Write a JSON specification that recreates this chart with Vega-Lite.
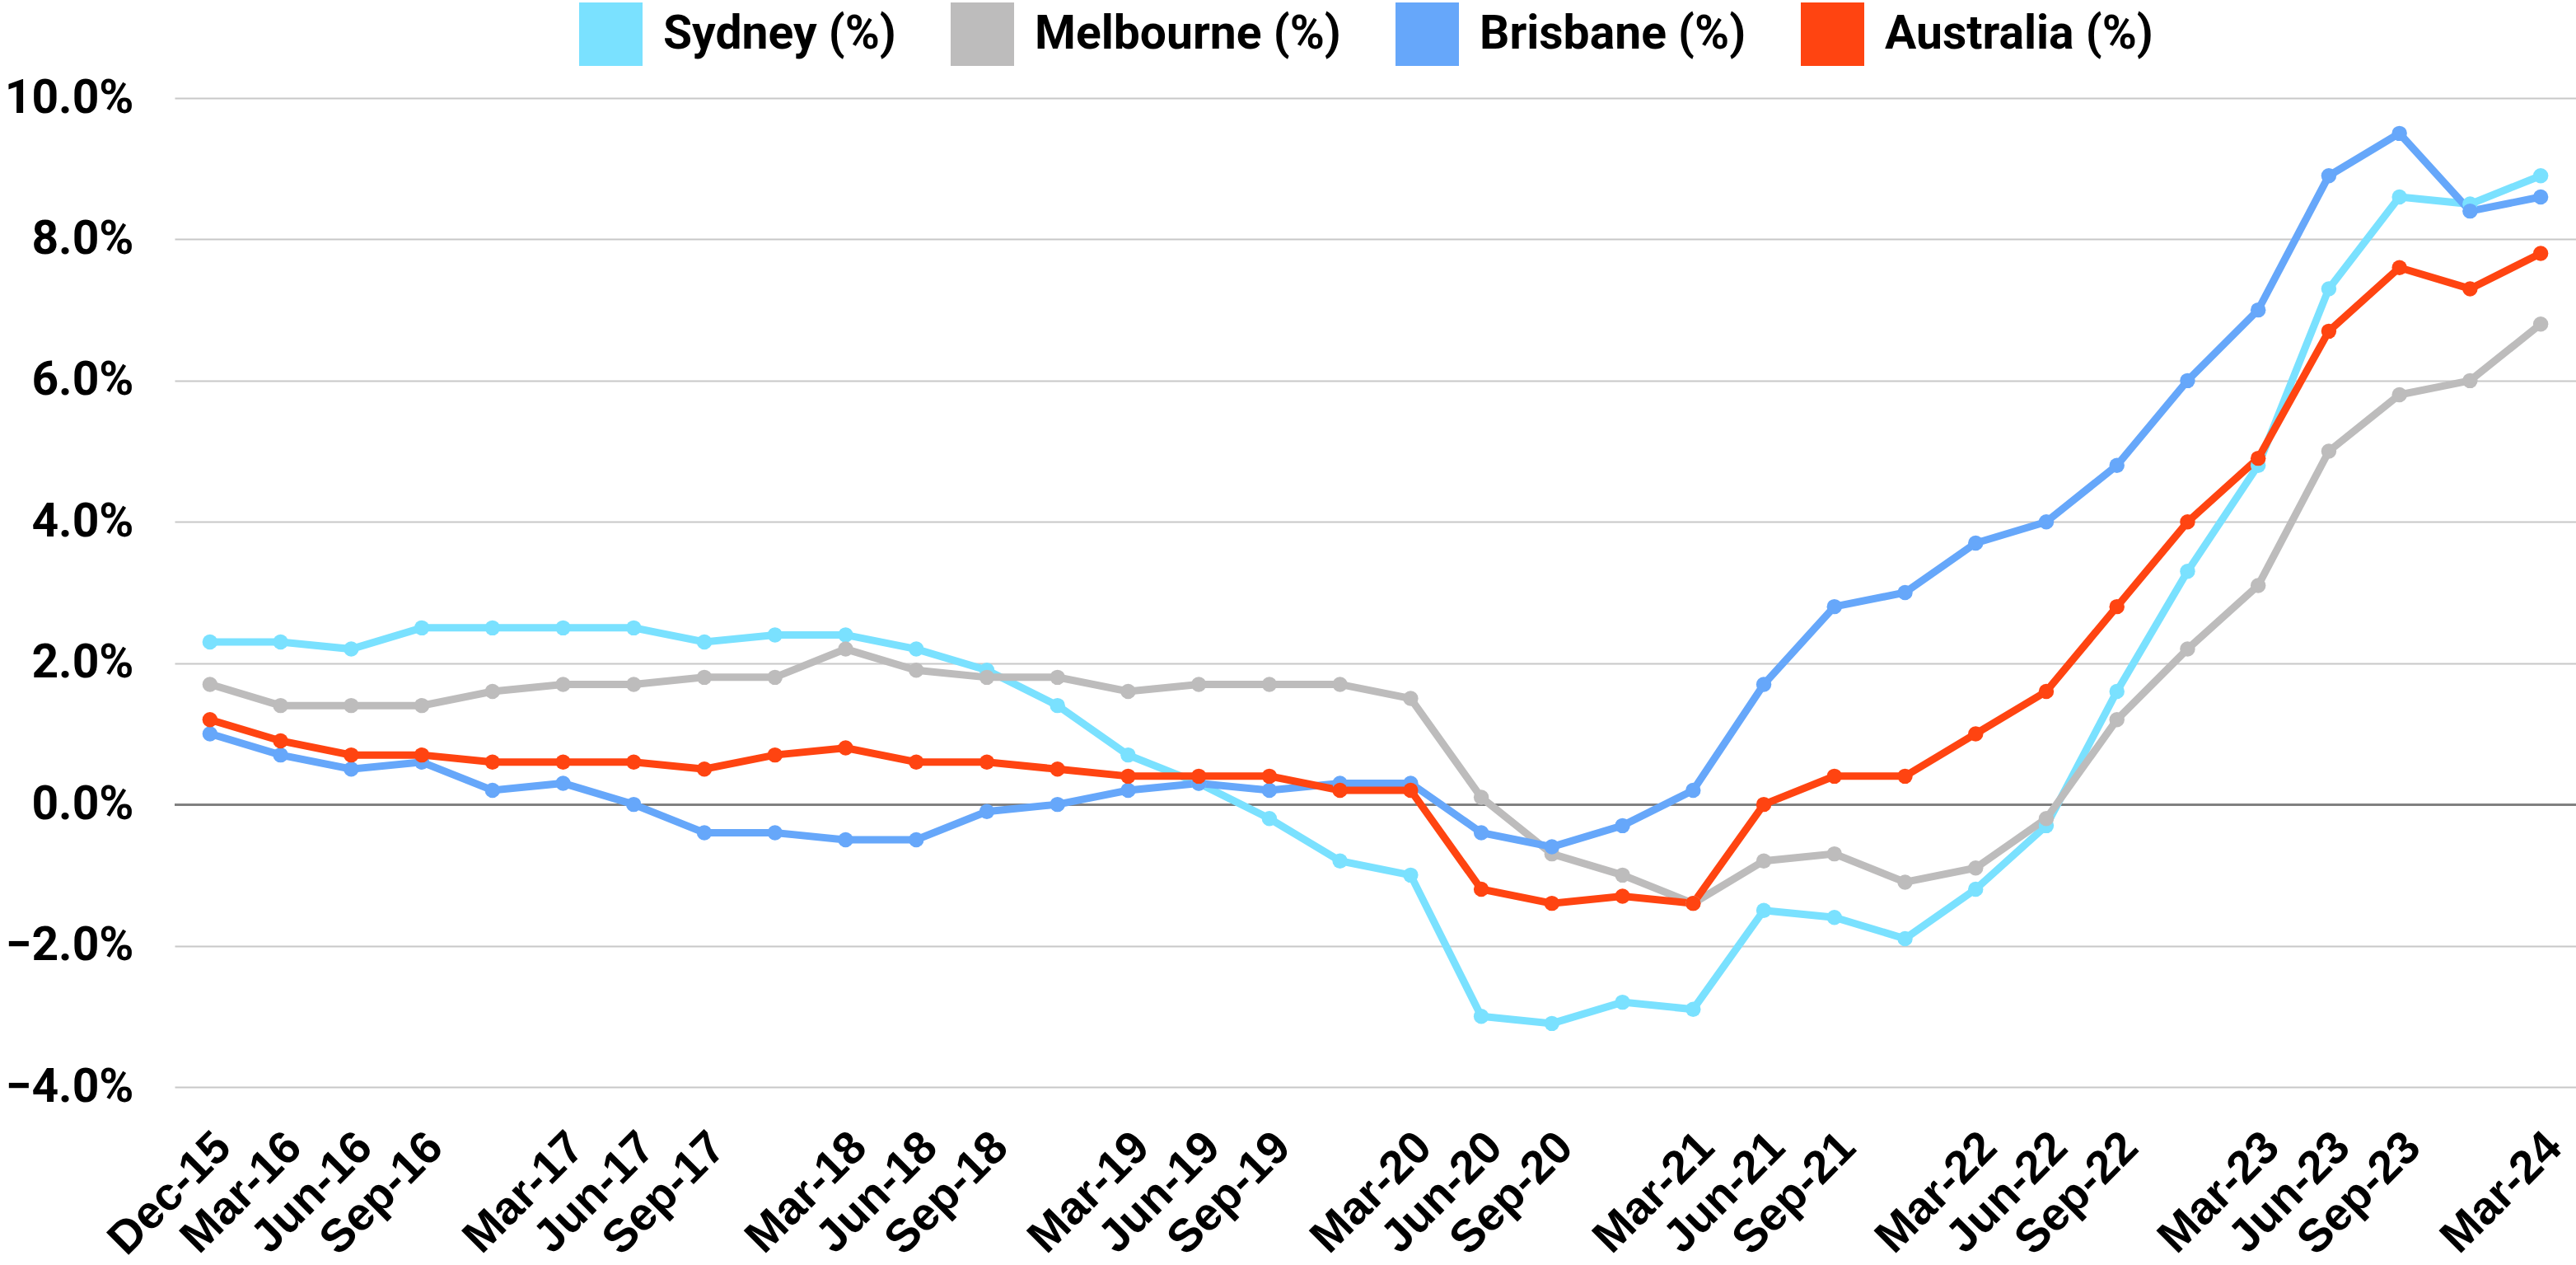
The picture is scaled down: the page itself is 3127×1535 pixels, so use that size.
{
  "$schema": "https://vega.github.io/schema/vega-lite/v6.json",
  "autosize": "none",
  "width": 2915,
  "height": 1200,
  "padding": {"left": 212, "top": 119, "right": 0, "bottom": 216},
  "background": "white",
  "config": {"view": {"stroke": null}},
  "datasets": {
    "rows": [
      {"q":"Dec-15","s":"Sydney (%)","v":2.3},{"q":"Mar-16","s":"Sydney (%)","v":2.3},{"q":"Jun-16","s":"Sydney (%)","v":2.2},{"q":"Sep-16","s":"Sydney (%)","v":2.5},{"q":"Dec-16","s":"Sydney (%)","v":2.5},{"q":"Mar-17","s":"Sydney (%)","v":2.5},{"q":"Jun-17","s":"Sydney (%)","v":2.5},{"q":"Sep-17","s":"Sydney (%)","v":2.3},{"q":"Dec-17","s":"Sydney (%)","v":2.4},{"q":"Mar-18","s":"Sydney (%)","v":2.4},{"q":"Jun-18","s":"Sydney (%)","v":2.2},{"q":"Sep-18","s":"Sydney (%)","v":1.9},{"q":"Dec-18","s":"Sydney (%)","v":1.4},{"q":"Mar-19","s":"Sydney (%)","v":0.7},{"q":"Jun-19","s":"Sydney (%)","v":0.3},{"q":"Sep-19","s":"Sydney (%)","v":-0.2},{"q":"Dec-19","s":"Sydney (%)","v":-0.8},{"q":"Mar-20","s":"Sydney (%)","v":-1.0},{"q":"Jun-20","s":"Sydney (%)","v":-3.0},{"q":"Sep-20","s":"Sydney (%)","v":-3.1},{"q":"Dec-20","s":"Sydney (%)","v":-2.8},{"q":"Mar-21","s":"Sydney (%)","v":-2.9},{"q":"Jun-21","s":"Sydney (%)","v":-1.5},{"q":"Sep-21","s":"Sydney (%)","v":-1.6},{"q":"Dec-21","s":"Sydney (%)","v":-1.9},{"q":"Mar-22","s":"Sydney (%)","v":-1.2},{"q":"Jun-22","s":"Sydney (%)","v":-0.3},{"q":"Sep-22","s":"Sydney (%)","v":1.6},{"q":"Dec-22","s":"Sydney (%)","v":3.3},{"q":"Mar-23","s":"Sydney (%)","v":4.8},{"q":"Jun-23","s":"Sydney (%)","v":7.3},{"q":"Sep-23","s":"Sydney (%)","v":8.6},{"q":"Dec-23","s":"Sydney (%)","v":8.5},{"q":"Mar-24","s":"Sydney (%)","v":8.9},
      {"q":"Dec-15","s":"Melbourne (%)","v":1.7},{"q":"Mar-16","s":"Melbourne (%)","v":1.4},{"q":"Jun-16","s":"Melbourne (%)","v":1.4},{"q":"Sep-16","s":"Melbourne (%)","v":1.4},{"q":"Dec-16","s":"Melbourne (%)","v":1.6},{"q":"Mar-17","s":"Melbourne (%)","v":1.7},{"q":"Jun-17","s":"Melbourne (%)","v":1.7},{"q":"Sep-17","s":"Melbourne (%)","v":1.8},{"q":"Dec-17","s":"Melbourne (%)","v":1.8},{"q":"Mar-18","s":"Melbourne (%)","v":2.2},{"q":"Jun-18","s":"Melbourne (%)","v":1.9},{"q":"Sep-18","s":"Melbourne (%)","v":1.8},{"q":"Dec-18","s":"Melbourne (%)","v":1.8},{"q":"Mar-19","s":"Melbourne (%)","v":1.6},{"q":"Jun-19","s":"Melbourne (%)","v":1.7},{"q":"Sep-19","s":"Melbourne (%)","v":1.7},{"q":"Dec-19","s":"Melbourne (%)","v":1.7},{"q":"Mar-20","s":"Melbourne (%)","v":1.5},{"q":"Jun-20","s":"Melbourne (%)","v":0.1},{"q":"Sep-20","s":"Melbourne (%)","v":-0.7},{"q":"Dec-20","s":"Melbourne (%)","v":-1.0},{"q":"Mar-21","s":"Melbourne (%)","v":-1.4},{"q":"Jun-21","s":"Melbourne (%)","v":-0.8},{"q":"Sep-21","s":"Melbourne (%)","v":-0.7},{"q":"Dec-21","s":"Melbourne (%)","v":-1.1},{"q":"Mar-22","s":"Melbourne (%)","v":-0.9},{"q":"Jun-22","s":"Melbourne (%)","v":-0.2},{"q":"Sep-22","s":"Melbourne (%)","v":1.2},{"q":"Dec-22","s":"Melbourne (%)","v":2.2},{"q":"Mar-23","s":"Melbourne (%)","v":3.1},{"q":"Jun-23","s":"Melbourne (%)","v":5.0},{"q":"Sep-23","s":"Melbourne (%)","v":5.8},{"q":"Dec-23","s":"Melbourne (%)","v":6.0},{"q":"Mar-24","s":"Melbourne (%)","v":6.8},
      {"q":"Dec-15","s":"Brisbane (%)","v":1.0},{"q":"Mar-16","s":"Brisbane (%)","v":0.7},{"q":"Jun-16","s":"Brisbane (%)","v":0.5},{"q":"Sep-16","s":"Brisbane (%)","v":0.6},{"q":"Dec-16","s":"Brisbane (%)","v":0.2},{"q":"Mar-17","s":"Brisbane (%)","v":0.3},{"q":"Jun-17","s":"Brisbane (%)","v":0.0},{"q":"Sep-17","s":"Brisbane (%)","v":-0.4},{"q":"Dec-17","s":"Brisbane (%)","v":-0.4},{"q":"Mar-18","s":"Brisbane (%)","v":-0.5},{"q":"Jun-18","s":"Brisbane (%)","v":-0.5},{"q":"Sep-18","s":"Brisbane (%)","v":-0.1},{"q":"Dec-18","s":"Brisbane (%)","v":0.0},{"q":"Mar-19","s":"Brisbane (%)","v":0.2},{"q":"Jun-19","s":"Brisbane (%)","v":0.3},{"q":"Sep-19","s":"Brisbane (%)","v":0.2},{"q":"Dec-19","s":"Brisbane (%)","v":0.3},{"q":"Mar-20","s":"Brisbane (%)","v":0.3},{"q":"Jun-20","s":"Brisbane (%)","v":-0.4},{"q":"Sep-20","s":"Brisbane (%)","v":-0.6},{"q":"Dec-20","s":"Brisbane (%)","v":-0.3},{"q":"Mar-21","s":"Brisbane (%)","v":0.2},{"q":"Jun-21","s":"Brisbane (%)","v":1.7},{"q":"Sep-21","s":"Brisbane (%)","v":2.8},{"q":"Dec-21","s":"Brisbane (%)","v":3.0},{"q":"Mar-22","s":"Brisbane (%)","v":3.7},{"q":"Jun-22","s":"Brisbane (%)","v":4.0},{"q":"Sep-22","s":"Brisbane (%)","v":4.8},{"q":"Dec-22","s":"Brisbane (%)","v":6.0},{"q":"Mar-23","s":"Brisbane (%)","v":7.0},{"q":"Jun-23","s":"Brisbane (%)","v":8.9},{"q":"Sep-23","s":"Brisbane (%)","v":9.5},{"q":"Dec-23","s":"Brisbane (%)","v":8.4},{"q":"Mar-24","s":"Brisbane (%)","v":8.6},
      {"q":"Dec-15","s":"Australia (%)","v":1.2},{"q":"Mar-16","s":"Australia (%)","v":0.9},{"q":"Jun-16","s":"Australia (%)","v":0.7},{"q":"Sep-16","s":"Australia (%)","v":0.7},{"q":"Dec-16","s":"Australia (%)","v":0.6},{"q":"Mar-17","s":"Australia (%)","v":0.6},{"q":"Jun-17","s":"Australia (%)","v":0.6},{"q":"Sep-17","s":"Australia (%)","v":0.5},{"q":"Dec-17","s":"Australia (%)","v":0.7},{"q":"Mar-18","s":"Australia (%)","v":0.8},{"q":"Jun-18","s":"Australia (%)","v":0.6},{"q":"Sep-18","s":"Australia (%)","v":0.6},{"q":"Dec-18","s":"Australia (%)","v":0.5},{"q":"Mar-19","s":"Australia (%)","v":0.4},{"q":"Jun-19","s":"Australia (%)","v":0.4},{"q":"Sep-19","s":"Australia (%)","v":0.4},{"q":"Dec-19","s":"Australia (%)","v":0.2},{"q":"Mar-20","s":"Australia (%)","v":0.2},{"q":"Jun-20","s":"Australia (%)","v":-1.2},{"q":"Sep-20","s":"Australia (%)","v":-1.4},{"q":"Dec-20","s":"Australia (%)","v":-1.3},{"q":"Mar-21","s":"Australia (%)","v":-1.4},{"q":"Jun-21","s":"Australia (%)","v":0.0},{"q":"Sep-21","s":"Australia (%)","v":0.4},{"q":"Dec-21","s":"Australia (%)","v":0.4},{"q":"Mar-22","s":"Australia (%)","v":1.0},{"q":"Jun-22","s":"Australia (%)","v":1.6},{"q":"Sep-22","s":"Australia (%)","v":2.8},{"q":"Dec-22","s":"Australia (%)","v":4.0},{"q":"Mar-23","s":"Australia (%)","v":4.9},{"q":"Jun-23","s":"Australia (%)","v":6.7},{"q":"Sep-23","s":"Australia (%)","v":7.6},{"q":"Dec-23","s":"Australia (%)","v":7.3},{"q":"Mar-24","s":"Australia (%)","v":7.8}
    ]
  },
  "data": {"name": "rows"},
  "encoding": {
    "x": {
      "field": "q", "type": "ordinal", "sort": null,
      "scale": {"type": "point", "padding": 0.5},
      "axis": {
        "title": null, "domain": false, "ticks": false, "grid": false,
        "values": ["Dec-15","Mar-16","Jun-16","Sep-16","Mar-17","Jun-17","Sep-17","Mar-18","Jun-18","Sep-18","Mar-19","Jun-19","Sep-19","Mar-20","Jun-20","Sep-20","Mar-21","Jun-21","Sep-21","Mar-22","Jun-22","Sep-22","Mar-23","Jun-23","Sep-23","Mar-24"],
        "labelAngle": -45, "labelAlign": "right", "labelBaseline": "alphabetic",
        "labelOffset": 28, "labelPadding": 76,
        "labelFont": "Liberation Sans", "labelFontWeight": "bold", "labelFontSize": 56,
        "labelColor": "#000000", "labelOverlap": false, "labelBound": false, "labelFlush": false, "labelLimit": 500
      }
    },
    "y": {
      "field": "v", "type": "quantitative",
      "scale": {"domain": [-4, 10], "nice": false, "zero": false},
      "axis": {
        "title": null, "domain": false, "ticks": false,
        "values": [-4, -2, 0, 2, 4, 6, 8, 10],
        "labelExpr": "format(datum.value, '.1f') + '%'",
        "labelFont": "Roboto", "labelFontWeight": "bold", "labelFontSize": 57, "labelLimit": 500,
        "labelColor": "#000000", "labelPadding": 50, "labelBaseline": "middle",
        "gridColor": "#c8c8c8", "gridWidth": 2
      }
    }
  },
  "layer": [
    {
      "mark": {"type": "rule", "color": "#808080", "strokeWidth": 2.5},
      "encoding": {"y": {"datum": 0}, "x": {"value": 0}, "x2": {"value": 2915}}
    },
    {
      "mark": {"type": "line", "strokeWidth": 9, "point": {"size": 340, "filled": true, "opacity": 1}},
      "encoding": {
        "color": {
          "field": "s", "type": "nominal",
          "scale": {
            "domain": ["Sydney (%)", "Melbourne (%)", "Brisbane (%)", "Australia (%)"],
            "range": ["#7ae1ff", "#bdbcbc", "#66a7fa", "#ff4411"]
          },
          "legend": {
            "title": null, "orient": "none", "direction": "horizontal",
            "legendX": 491, "legendY": -116, "padding": 0,
            "symbolType": "square", "symbolSize": 5929, "symbolStrokeWidth": 0, "symbolOpacity": 1,
            "labelFont": "Roboto", "labelFontWeight": "bold", "labelFontSize": 57,
            "labelColor": "#000000", "labelOffset": 25, "columnPadding": 66, "labelLimit": 1000
          }
        }
      }
    }
  ]
}
